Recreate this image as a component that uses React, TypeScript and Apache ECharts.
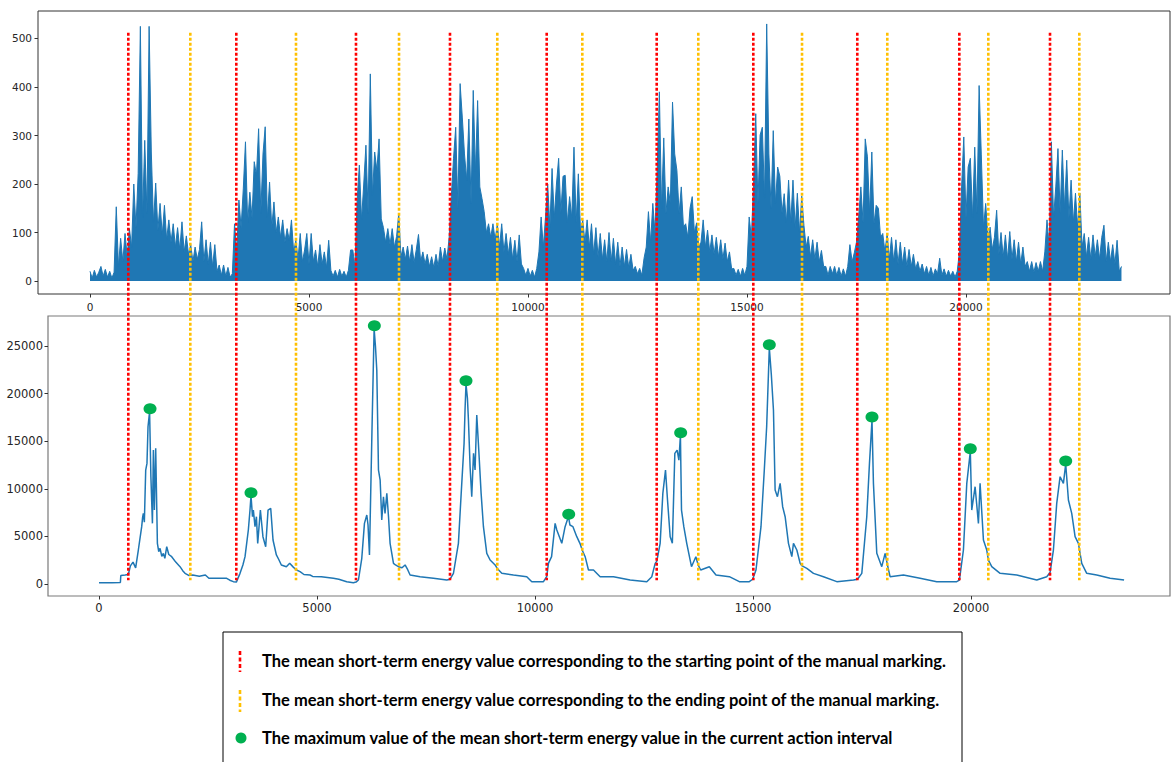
import React, { useEffect, useRef } from "react";
import * as echarts from "echarts";

// ---------- data ----------
// raw signal (top panel), one value every 50 samples
const signalStep = 50;
const rawSignal: number[] = [
  20, 6, 22, 8, 18, 30, 10, 24, 8, 20, 6, 18, 153, 30, 88, 40, 98, 50, 108, 70,
  200, 110, 222, 525, 130, 290, 140, 525, 266, 120, 202, 105, 160, 95, 156, 85, 126, 80, 118, 70,
  110, 65, 122, 60, 93, 55, 75, 40, 70, 45, 65, 122, 40, 85, 35, 80, 30, 75, 20, 33,
  12, 33, 10, 28, 8, 15, 118, 60, 167, 110, 190, 287, 120, 183, 130, 246, 218, 314, 140, 262,
  318, 130, 204, 110, 163, 100, 132, 90, 126, 80, 108, 84, 126, 60, 84, 45, 98, 40, 64, 98,
  35, 98, 40, 64, 30, 75, 35, 60, 28, 84, 22, 10, 22, 8, 24, 10, 20, 8, 22, 64,
  64, 30, 167, 239, 126, 200, 280, 140, 427, 177, 266, 228, 293, 128, 110, 80, 108, 75, 108, 70,
  92, 140, 50, 70, 45, 72, 40, 75, 38, 65, 96, 40, 60, 35, 55, 30, 50, 28, 55, 30,
  70, 40, 68, 45, 90, 174, 253, 317, 150, 407, 338, 262, 208, 334, 160, 393, 225, 372, 194, 170,
  143, 100, 118, 90, 118, 85, 118, 70, 118, 60, 98, 55, 90, 45, 84, 40, 95, 35, 26, 12,
  26, 10, 22, 8, 26, 60, 132, 70, 132, 200, 110, 232, 130, 200, 253, 140, 216, 218, 120, 174,
  130, 276, 120, 221, 100, 126, 80, 126, 70, 118, 55, 110, 50, 98, 45, 85, 40, 100, 40, 88,
  35, 80, 30, 70, 30, 65, 28, 55, 22, 30, 15, 26, 12, 47, 70, 143, 80, 160, 100, 230,
  390, 150, 295, 140, 194, 160, 369, 262, 228, 140, 194, 111, 118, 90, 150, 174, 100, 120, 70, 80,
  126, 70, 105, 60, 95, 55, 90, 50, 85, 45, 78, 40, 60, 25, 26, 12, 24, 10, 26, 12,
  30, 132, 90, 200, 345, 160, 301, 317, 170, 530, 262, 150, 310, 160, 235, 216, 140, 180, 120, 208,
  120, 208, 110, 181, 100, 175, 115, 70, 92, 50, 85, 45, 80, 40, 63, 30, 30, 12, 30, 15,
  30, 12, 28, 10, 25, 10, 30, 75, 40, 58, 80, 132, 194, 120, 293, 256, 140, 266, 118, 156,
  150, 90, 98, 60, 98, 45, 90, 40, 85, 35, 80, 35, 70, 30, 65, 30, 55, 25, 40, 20,
  35, 15, 30, 12, 28, 10, 25, 15, 47, 12, 25, 10, 22, 10, 20, 8, 20, 60, 194, 297,
  130, 235, 253, 130, 276, 140, 403, 260, 110, 160, 90, 111, 65, 90, 146, 55, 100, 50, 95, 45,
  102, 45, 85, 40, 80, 35, 70, 30, 40, 20, 40, 18, 38, 20, 40, 20, 60, 126, 70, 287,
  130, 194, 273, 140, 270, 150, 249, 130, 208, 120, 181, 110, 181, 70, 98, 50, 90, 45, 95, 50,
  85, 45, 90, 115, 40, 80, 40, 75, 35, 84, 20, 30,
];

// mean short-term energy (bottom panel): [sample, energy]
const energyCurve: [number, number][] = [
  [0, 140], [300, 140], [490, 150], [500, 900], [600, 950], [672, 1000], [720, 1900], [780, 2300],
  [840, 1700], [902, 3570], [940, 4800], [979, 6020], [1000, 7000], [1017, 7420], [1040, 6500],
  [1071, 11970], [1100, 12670], [1124, 16520], [1160, 18100], [1190, 11270], [1225, 6370],
  [1247, 14070], [1270, 7770], [1300, 14250], [1339, 4270], [1370, 3400], [1400, 3750], [1440, 2900],
  [1476, 3220], [1510, 2700], [1553, 3920], [1600, 3100], [1667, 2870], [1760, 2300], [1858, 1820],
  [1920, 1400], [1973, 1120], [2057, 900], [2150, 945], [2300, 820], [2439, 945], [2520, 600],
  [2700, 595], [2928, 595], [3000, 400], [3081, 245], [3150, 200], [3234, 1120], [3300, 2000],
  [3349, 2870], [3425, 5670], [3463, 7770], [3486, 9300], [3520, 7070], [3540, 7770], [3578, 6020],
  [3610, 7070], [3640, 4270], [3701, 7770], [3760, 4970], [3823, 3920], [3877, 7770], [3938, 7950],
  [3991, 4620], [4068, 3050], [4120, 2600], [4182, 2000], [4297, 1820], [4373, 2170], [4450, 1800],
  [4519, 1500], [4611, 1300], [4700, 1000], [4840, 945], [4900, 800], [5100, 770], [5375, 595],
  [5500, 500], [5681, 245], [5834, 140], [5895, 200], [5950, 420], [6027, 2700], [6088, 6370],
  [6142, 7250], [6170, 6200], [6203, 3050], [6260, 16000], [6310, 26800], [6340, 25000],
  [6371, 22480], [6410, 11970], [6448, 10920], [6485, 6720], [6524, 9170], [6560, 7420],
  [6601, 9520], [6640, 7070], [6676, 4270], [6754, 2170], [6800, 2000], [6868, 1820], [6950, 1700],
  [7020, 2000], [7080, 1500], [7135, 945], [7364, 770], [7670, 595], [7976, 420], [8052, 500],
  [8129, 1120], [8243, 4270], [8320, 10570], [8373, 14770], [8395, 18270], [8417, 21000],
  [8450, 19500], [8473, 17220], [8511, 12320], [8549, 9170], [8590, 13720], [8625, 11970],
  [8664, 17750], [8710, 14070], [8764, 9520], [8817, 6020], [8894, 3220], [8970, 2520], [9085, 2000],
  [9139, 1600], [9238, 1120], [9505, 945], [9811, 770], [9926, 245], [10194, 245], [10270, 800],
  [10308, 2170], [10380, 2870], [10461, 6370], [10500, 5670], [10614, 4270], [10690, 6020],
  [10767, 7100], [10800, 6200], [10870, 6020], [10958, 4970], [11030, 4270], [11089, 3500],
  [11150, 2870], [11226, 1470], [11341, 1470], [11494, 770], [11800, 770], [12182, 420],
  [12564, 245], [12679, 770], [12756, 2170], [12794, 2400], [12870, 4270], [12932, 9520],
  [12993, 11970], [13039, 8820], [13100, 4970], [13150, 4270], [13207, 13720], [13260, 14070],
  [13300, 13000], [13335, 15600], [13360, 7770], [13413, 6020], [13480, 4270], [13589, 1820],
  [13689, 2870], [13742, 2000], [13800, 1470], [13998, 1820], [14151, 945], [14457, 770],
  [14686, 245], [14915, 245], [14992, 500], [15068, 1470], [15183, 6020], [15259, 11970],
  [15313, 16520], [15374, 24800], [15420, 22000], [15469, 18270], [15507, 9870], [15560, 9170],
  [15622, 10570], [15680, 8120], [15737, 7070], [15813, 4270], [15890, 2870], [15928, 4270],
  [16005, 3570], [16081, 2170], [16127, 1900], [16234, 1650], [16387, 1120], [16616, 770],
  [16922, 245], [17304, 420], [17396, 500], [17495, 1120], [17609, 7070], [17671, 12670],
  [17729, 17200], [17762, 10570], [17839, 3220], [17953, 1820], [18030, 3220], [18083, 2000],
  [18144, 770], [18450, 945], [18832, 595], [19214, 245], [19673, 245], [19734, 400], [19826, 3570],
  [19903, 10570], [19984, 13900], [20017, 7770], [20094, 10220], [20170, 6370], [20208, 10570],
  [20285, 4620], [20361, 3570], [20399, 2500], [20476, 1820], [20667, 1120], [21049, 945],
  [21508, 420], [21737, 770], [21813, 1200], [21890, 3570], [21966, 8470], [22043, 11270],
  [22119, 10570], [22172, 12600], [22234, 8820], [22310, 7420], [22387, 4970], [22463, 4270],
  [22540, 2170], [22654, 1120], [22884, 945], [23190, 595], [23511, 420],
];

// maximum of the energy inside each action interval
const peakPoints: [number, number][] = [
  [1170, 18414], [3486, 9590], [6315, 27133], [8417, 21355], [10773, 7321],
  [13341, 15893], [15374, 25136], [17729, 17542], [19984, 14212], [22172, 12920],
];

// manual marks (sample index, on the energy axis)
const startMarks = [672, 3149, 5894, 8050, 10268, 12791, 15007, 17392, 19732, 21812];
const endMarks = [2094, 4518, 6881, 9135, 11085, 13745, 16124, 18080, 20397, 22484];

const xTicks = [0, 5000, 10000, 15000, 20000];
const topYTicks = [0, 100, 200, 300, 400, 500];
const bottomYTicks = [0, 5000, 10000, 15000, 20000, 25000];

const legendTexts = [
  "The mean short-term energy value corresponding to the starting point of the manual marking.",
  "The mean short-term energy value corresponding to the ending point of the manual marking.",
  "The maximum value of the mean short-term energy value in the current action interval",
];

const BLUE = "#1f77b4";
const RED = "#FF0000";
const ORANGE = "#FFC000";
const GREEN = "#00B050";

export default function App() {
  const ref = useRef<HTMLDivElement>(null);

  useEffect(() => {
    const chart = echarts.init(ref.current!, null, { renderer: "svg" });

    const tickLabel = (size: number, margin: number, values: number[]) => ({
      fontFamily: "DejaVu Sans",
      fontSize: size,
      color: "#262626",
      margin,
      customValues: values,
      formatter: (v: number) => String(v),
    });
    const tick = (values: number[]) => ({
      show: true,
      length: 3.5,
      inside: false,
      customValues: values,
      lineStyle: { color: "#333", width: 1 },
    });

    const option: any = {
      animation: false,
      backgroundColor: "#ffffff",
      grid: [
        { left: 38, top: 11, width: 1132, height: 283, show: true, borderColor: "#333", borderWidth: 1, backgroundColor: "transparent" },
        { left: 48, top: 316, width: 1122, height: 280, show: true, borderColor: "#7a7a7a", borderWidth: 1.2, backgroundColor: "transparent" },
      ],
      xAxis: [
        {
          type: "value", gridIndex: 0, min: -1187, max: 24658, position: "bottom",
          axisLine: { show: false, onZero: false },
          axisTick: tick(xTicks),
          axisLabel: tickLabel(10.5, 7, xTicks),
          splitLine: { show: false },
        },
        {
          type: "value", gridIndex: 1, min: -1170, max: 24564, position: "bottom",
          axisLine: { show: false, onZero: false },
          axisTick: tick(xTicks),
          axisLabel: tickLabel(11.5, 6, xTicks),
          splitLine: { show: false },
        },
      ],
      yAxis: [
        {
          type: "value", gridIndex: 0, min: -26.8, max: 556.7, position: "left",
          axisLine: { show: false, onZero: false },
          axisTick: tick(topYTicks),
          axisLabel: tickLabel(10.5, 6, topYTicks),
          splitLine: { show: false },
        },
        {
          type: "value", gridIndex: 1, min: -1260, max: 28151, position: "left",
          axisLine: { show: false, onZero: false },
          axisTick: tick(bottomYTicks),
          axisLabel: tickLabel(11.5, 5, bottomYTicks),
          splitLine: { show: false },
        },
      ],
      series: [
        {
          type: "line",
          xAxisIndex: 0,
          yAxisIndex: 0,
          data: rawSignal.map((v, i) => [i * signalStep, v]),
          showSymbol: false,
          lineStyle: { color: BLUE, width: 1 },
          itemStyle: { color: BLUE },
          areaStyle: { color: BLUE, opacity: 1 },
        },
        {
          type: "line",
          xAxisIndex: 1,
          yAxisIndex: 1,
          data: energyCurve,
          showSymbol: false,
          lineStyle: { color: BLUE, width: 1.5 },
          itemStyle: { color: BLUE },
        },
        {
          type: "scatter",
          xAxisIndex: 1,
          yAxisIndex: 1,
          data: peakPoints,
          symbol: "circle",
          symbolSize: [13, 11],
          itemStyle: { color: GREEN, opacity: 1 },
          z: 10,
        },
      ],
    };

    chart.setOption(option);

    const yTop = chart.convertToPixel({ yAxisIndex: 0 }, 512) as number;
    const yBottom = chart.convertToPixel({ yAxisIndex: 1 }, 400) as number;

    const markLine = (v: number, color: string) => {
      const x = chart.convertToPixel({ xAxisIndex: 1 }, v) as number;
      return {
        type: "line",
        z: 100,
        shape: { x1: x, y1: yTop, x2: x, y2: yBottom },
        style: { stroke: color, lineWidth: 2.6, lineDash: [3, 2] },
        silent: true,
      };
    };

    const graphics: any[] = [
      ...startMarks.map((v) => markLine(v, RED)),
      ...endMarks.map((v) => markLine(v, ORANGE)),
      {
        type: "rect",
        z: 100,
        shape: { x: 223, y: 632, width: 739, height: 150 },
        style: { fill: "none", stroke: "#000", lineWidth: 1 },
      },
      {
        type: "line",
        z: 100,
        shape: { x1: 240, y1: 651, x2: 240, y2: 672 },
        style: { stroke: RED, lineWidth: 2.6, lineDash: [4, 2.5] },
      },
      {
        type: "line",
        z: 100,
        shape: { x1: 240, y1: 690, x2: 240, y2: 712 },
        style: { stroke: ORANGE, lineWidth: 2.6, lineDash: [4, 2.5] },
      },
      {
        type: "circle",
        z: 100,
        shape: { cx: 241, cy: 738, r: 5.5 },
        style: { fill: GREEN },
      },
      ...legendTexts.map((t, i) => ({
        type: "text",
        z: 100,
        x: 262,
        y: [661, 700, 738][i],
        style: {
          text: t,
          font: "bold 16.5px Lato",
          fill: "#000",
          verticalAlign: "middle",
          align: "left",
        },
      })),
    ];

    chart.setOption({ graphic: graphics });

    return () => chart.dispose();
  }, []);

  return (
    <div
      ref={ref}
      style={{ position: "absolute", left: 0, top: 0, width: 1172, height: 762, background: "#fff" }}
    />
  );
}
